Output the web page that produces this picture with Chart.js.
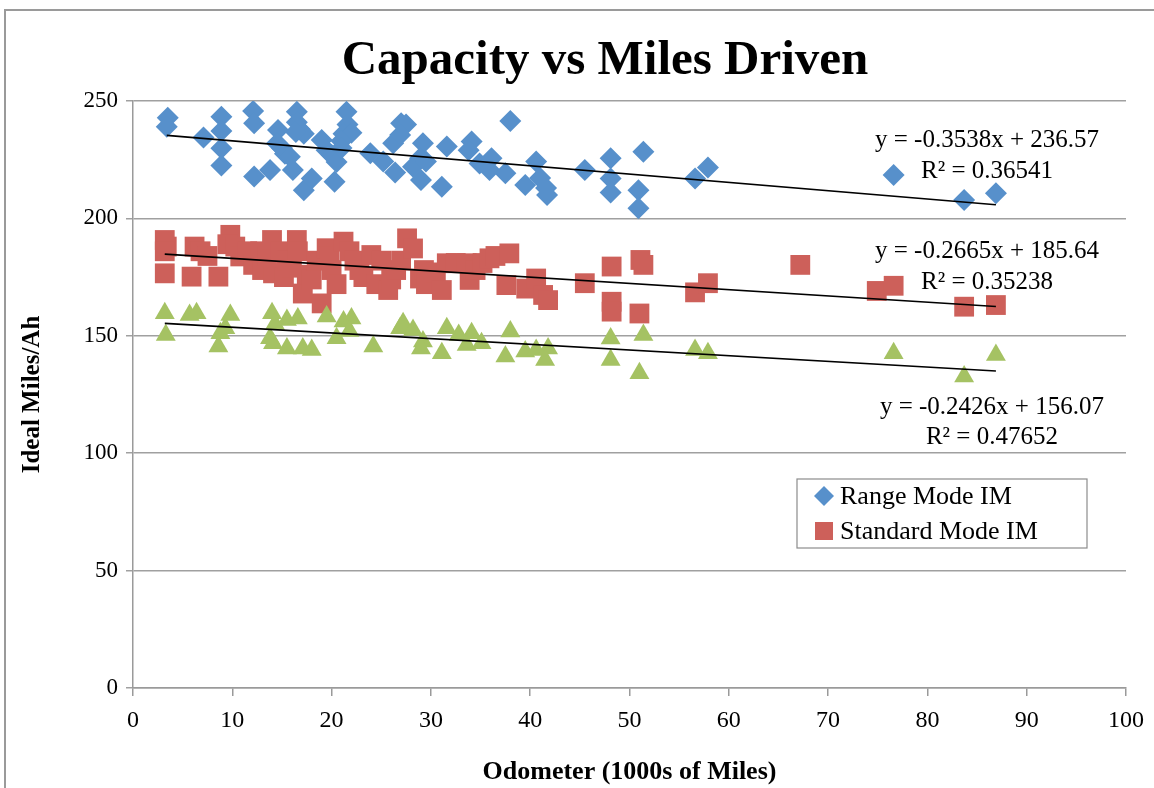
<!DOCTYPE html>
<html>
<head>
<meta charset="utf-8">
<title>Capacity vs Miles Driven</title>
<script src="https://cdn.jsdelivr.net/npm/chart.js@4.4.1/dist/chart.umd.min.js"></script>
<style>
  body { margin: 0; background: #fff; }
  #wrap { width: 1154px; height: 788px; }
</style>
</head>
<body>
<div id="wrap"><canvas id="myChart" width="1154" height="788"></canvas></div>
<script>
// odometer in 1000s of miles, capacity in ideal miles/Ah
var rangeX = [3.5, 3.4, 7.1, 8.9, 8.9, 8.9, 8.9, 12.1, 12.2, 12.2, 13.8, 14.6, 14.5, 15, 15.3,
  16.5, 16.5, 16.8, 17.2, 15.8, 16.1, 17.2, 18, 16.4, 21.5, 21.6, 21.2, 22, 21, 19, 19.5, 20,
  20.5, 20.3, 21, 23.9, 25.2, 26.4, 26.2, 27, 27.5, 26.9, 29.2, 28.9, 28.2, 29, 29.5, 31.1,
  31.6, 34.1, 33.8, 34.9, 36.1, 35.9, 37.5, 38, 39.5, 40.6, 41, 41.6, 41.7, 45.5, 48.1, 48.1,
  48.1, 51.4, 50.9, 50.9, 56.6, 57.9, 76.6, 83.7, 86.9];
var rangeY = [242.9, 239, 234.5, 243.3, 237.2, 229.9, 222.5, 245.7, 240.5, 217.8, 220.6, 237.6, 232, 230, 227.5,
  245.4, 241, 238, 236, 226.3, 220.6, 212, 217, 236.8, 245.4, 240, 236, 236.5, 233, 233.4, 229, 227,
  224, 215.6, 230, 227.7, 224.2, 219.6, 232, 240.5, 240, 235.5, 232, 225.6, 222, 216.4, 224.2, 213.5,
  230.6, 232.7, 229, 223.4, 225.6, 220.6, 219.2, 241.5, 214.2, 224.2, 217.2, 212.9, 210, 220.6, 225.6, 217,
  211, 228.4, 212, 204.3, 217, 221.7, 218.5, 207.8, 210.7];

var standardX = [3.2, 3.4, 3.2, 3.2, 6.2, 5.9, 6.8, 7.5, 8.6, 9.8, 9.5, 10.3, 10.8, 11.5, 12.1, 12.8,
  13, 13.5, 14, 14.1, 14.8, 15.2, 15.5, 16, 16.5, 16.6, 17.1, 17.5, 18, 18.5, 19, 19.5, 19.8, 20,
  20.5, 21.2, 21.8, 22.3, 22.8, 23.2, 24, 24.5, 25, 25.7, 26, 26.5, 27, 27.6, 28.2, 28.9, 29.3,
  29.5, 30.5, 31.1, 31.6, 32.5, 33.6, 33.9, 34.5, 35.2, 35.9, 36.5, 37.6, 37.9, 39.6, 40.6, 41.3,
  41.8, 45.5, 48.2, 48.2, 48.2, 51.1, 51.4, 51, 56.6, 57.9, 67.2, 74.9, 76.6, 83.7, 86.9];
var standardY = [190.8, 188, 186, 176.6, 188, 175.2, 186, 184, 175.2, 193, 189, 188, 183.8, 186, 180.2, 186,
  178, 184, 190.8, 176.6, 186, 175, 182, 179, 190.8, 186, 168, 176, 174, 182, 163.8, 187.3, 184, 178,
  172, 190.1, 186, 182, 178, 175, 184.4, 172, 182, 169.5, 174, 178, 182, 191.5, 187.2, 174.4, 178,
  172, 177, 169.5, 180.9, 181, 180.9, 173.8, 178, 181, 183, 184, 171.6, 185.1, 170.1, 174.4, 167.4,
  165.2, 172.4, 179.5, 164.5, 160.3, 182.3, 180.2, 159.5, 168.5, 172.4, 180.2, 169.1, 171.3, 162.4, 163.1];

var thirdX = [3.2, 3.3, 5.7, 6.4, 8.8, 8.6, 9.8, 9.3, 14, 14.3, 14.1, 13.8, 15.5, 16.6, 15.5, 17.1,
  18, 19.5, 20.5, 21.2, 22, 21.8, 24.2, 26.9, 27.2, 28.2, 29.2, 29, 31.1, 31.6, 32.8, 34.1, 33.6,
  35.1, 38, 37.5, 39.5, 40.6, 41.8, 41.5, 48.1, 48.1, 51.4, 51, 56.6, 57.9, 76.6, 83.7, 86.9];
var thirdY = [159.6, 150.3, 158.9, 159.6, 151.1, 145.4, 158.9, 153.2, 159.6, 155, 146.8, 149, 156.7, 157.4, 144.6, 144.6,
  144, 158.2, 149, 156.1, 157.4, 152, 145.4, 153.2, 155.3, 152.5, 147.6, 144.6, 142.6, 153.2, 150.3, 151.1, 146.1,
  146.8, 151.8, 141.2, 143.3, 144, 144.6, 139.7, 148.9, 139.7, 150.3, 134, 144, 142.6, 142.6, 132.7, 141.8];

var seriesNames = ["Range Mode IM", "Standard Mode IM", ""];
var slopes = [-0.3538, -0.2665, -0.2426];
var intercepts = [236.57, 185.64, 156.07];
var rSquared = ["0.36541", "0.35238", "0.47652"];
var xTicks = [0, 10, 20, 30, 40, 50, 60, 70, 80, 90, 100];
var yTicks = [0, 50, 100, 150, 200, 250];

// where the equation labels sit, in data units
var eqAnchors = [[86, 233, 219.8], [86, 186.1, 172.9], [86.5, 119.7, 106.9]];

var colors = ["#5790cb", "#cd605a", "#a5c263"];
var shapes = ["rectRot", "rect", "triangle"];
var radii = [11, 14, 11.5];
var FONT = "'Liberation Serif', 'DejaVu Serif', serif";

function pts(xs, ys) {
  return xs.map(function (x, i) { return {x: x, y: ys[i]}; });
}
var allX = [rangeX, standardX, thirdX];
var allY = [rangeY, standardY, thirdY];

var datasets = [];
for (var i = 0; i < 3; i++) {
  datasets.push({
    label: seriesNames[i],
    data: pts(allX[i], allY[i]),
    pointStyle: shapes[i],
    pointRadius: radii[i],
    pointHoverRadius: radii[i],
    backgroundColor: colors[i],
    borderColor: colors[i],
    borderWidth: 0,
    order: 3 - i
  });
}
// trendlines
for (var j = 0; j < 3; j++) {
  var x0 = Math.min.apply(null, allX[j]), x1 = Math.max.apply(null, allX[j]);
  datasets.push({
    label: "trend" + j,
    type: "line",
    data: [{x: x0, y: slopes[j] * x0 + intercepts[j]}, {x: x1, y: slopes[j] * x1 + intercepts[j]}],
    borderColor: "#000",
    borderWidth: 1.6,
    pointRadius: 0,
    fill: false,
    order: 0
  });
}

var extras = {
  id: "extras",
  afterDraw: function (chart) {
    var ctx = chart.ctx, xs = chart.scales.x, ys = chart.scales.y;
    ctx.save();
    // outer chart border (top and left visible)
    ctx.strokeStyle = "#9a9a9a";
    ctx.lineWidth = 2;
    ctx.beginPath();
    ctx.moveTo(1154, 10); ctx.lineTo(5, 10); ctx.lineTo(5, 788);
    ctx.stroke();

    // title
    ctx.fillStyle = "#000";
    ctx.textAlign = "center";
    ctx.textBaseline = "middle";
    ctx.font = "bold 49px " + FONT;
    ctx.fillText("Capacity vs Miles Driven", 605, 61);

    // equations
    ctx.font = "25px " + FONT;
    for (var k = 0; k < 3; k++) {
      var sign = intercepts[k] < 0 ? " - " : " + ";
      var a = eqAnchors[k];
      var px = xs.getPixelForValue(a[0]);
      ctx.fillText("y = " + slopes[k] + "x" + sign + intercepts[k].toFixed(2), px, ys.getPixelForValue(a[1]));
      ctx.fillText("R\u00b2 = " + rSquared[k], px, ys.getPixelForValue(a[2]));
    }

    // legend box
    var lx = 797, ly = 479, lw = 290, lh = 69;
    ctx.fillStyle = "#fff";
    ctx.fillRect(lx, ly, lw, lh);
    ctx.strokeStyle = "#8c8c8c";
    ctx.lineWidth = 1.2;
    ctx.strokeRect(lx, ly, lw, lh);
    ctx.textAlign = "left";
    ctx.font = "26px " + FONT;
    for (var m = 0; m < 2; m++) {
      var cy = ly + 17 + m * 35;
      ctx.fillStyle = colors[m];
      if (m === 0) {
        ctx.beginPath();
        ctx.moveTo(lx + 27, cy - 10); ctx.lineTo(lx + 37, cy);
        ctx.lineTo(lx + 27, cy + 10); ctx.lineTo(lx + 17, cy);
        ctx.closePath(); ctx.fill();
      } else {
        ctx.fillRect(lx + 18, cy - 9, 18, 18);
      }
      ctx.fillStyle = "#000";
      ctx.fillText(seriesNames[m], lx + 43, cy + 1);
    }
    ctx.restore();
  }
};

new Chart("myChart", {
  type: "scatter",
  data: {datasets: datasets},
  plugins: [extras],
  options: {
    responsive: false,
    animation: false,
    devicePixelRatio: 1,
    layout: {padding: {left: 0, right: 28, top: 101, bottom: 0}},
    plugins: {
      legend: {display: false},
      tooltip: {enabled: false},
      title: {display: false}
    },
    scales: {
      x: {
        type: "linear",
        min: 0, max: 100,
        afterFit: function (s) { s.height = 100; },
        afterBuildTicks: function (s) { s.ticks = xTicks.map(function (v) { return {value: v}; }); },
        ticks: {color: "#000", font: {family: FONT, size: 24}, padding: 10, maxRotation: 0},
        grid: {drawOnChartArea: false, drawTicks: true, tickLength: 8, color: "#9a9a9a", lineWidth: 1.5},
        border: {color: "#9a9a9a", width: 1.5},
        title: {display: true, text: "Odometer (1000s of Miles)", color: "#000",
          font: {family: FONT, size: 26, weight: "bold", lineHeight: 1.2}, padding: {top: 4, bottom: 0}}
      },
      y: {
        type: "linear",
        min: 0, max: 250,
        afterFit: function (s) { s.width = 133; },
        afterBuildTicks: function (s) { s.ticks = yTicks.map(function (v) { return {value: v}; }); },
        ticks: {color: "#000", font: {family: FONT, size: 23}, padding: 8},
        grid: {color: "#a0a0a0", lineWidth: 1.5, tickLength: 7},
        border: {color: "#9a9a9a", width: 1.5},
        title: {display: true, text: "Ideal Miles/Ah", color: "#000",
          font: {family: FONT, size: 25, weight: "bold", lineHeight: 1.2}, padding: {top: 18, bottom: 0}}
      }
    }
  }
});
</script>
</body>
</html>
